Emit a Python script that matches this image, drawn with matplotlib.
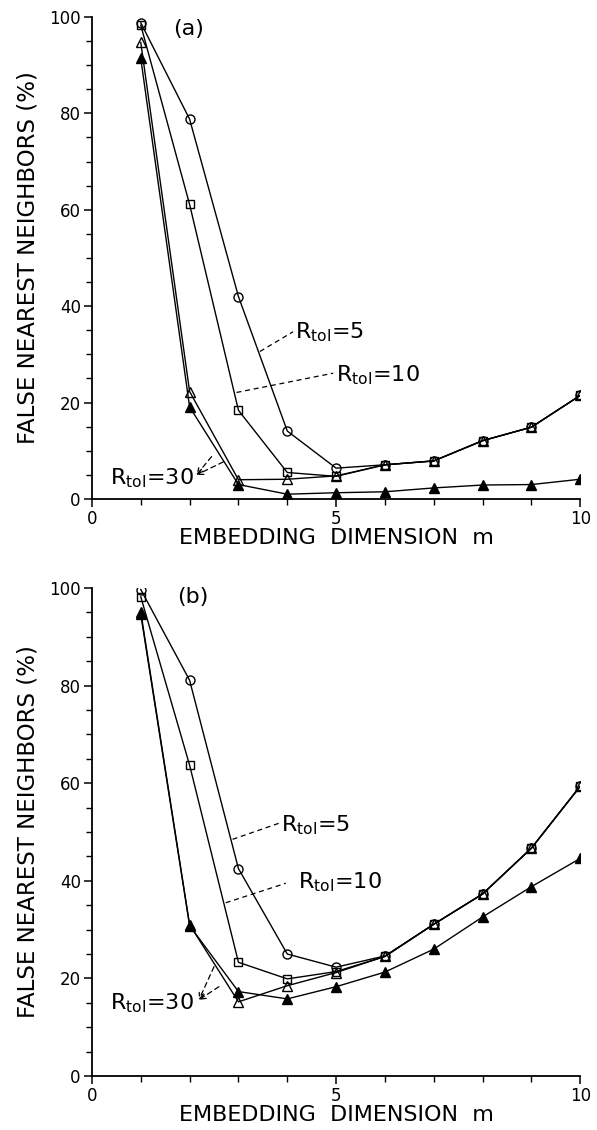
import matplotlib
matplotlib.use("Agg")
import matplotlib.pyplot as plt
from matplotlib.ticker import MultipleLocator

# embedding dimension
m = [1, 2, 3, 4, 5, 6, 7, 8, 9, 10]

# panel (a): false nearest neighbors in %
a_circle = [98.8, 78.8, 42.0, 14.1, 6.4, 7.1, 7.9, 12.1, 14.9, 21.5]
a_square = [98.3, 61.1, 18.4, 5.5, 4.7, 7.1, 7.9, 12.1, 14.9, 21.5]
a_tri_open = [94.7, 22.3, 4.0, 4.1, 4.8, 7.1, 7.9, 12.1, 14.9, 21.5]
a_tri_fill = [91.4, 19.1, 3.0, 1.0, 1.3, 1.5, 2.3, 2.9, 3.0, 4.1]

# panel (b)
b_circle = [99.7, 81.1, 42.5, 25.0, 22.3, 24.6, 31.1, 37.3, 46.7, 59.4]
b_square = [98.2, 63.7, 23.3, 19.9, 21.4, 24.5, 31.1, 37.3, 46.7, 59.4]
b_tri_open = [95.1, 31.0, 15.2, 18.5, 21.2, 24.5, 31.1, 37.3, 46.7, 59.4]
b_tri_fill = [94.6, 30.8, 17.3, 15.8, 18.3, 21.3, 26.0, 32.6, 38.8, 44.6]

labels = ['5', '10', '30']


def style_axes(ax):
    ax.set_xlim(0, 10)
    ax.set_ylim(0, 100)
    for s in ['top', 'right']:
        ax.spines[s].set_visible(False)
    for s in ['left', 'bottom']:
        ax.spines[s].set_linewidth(1.3)
    ax.xaxis.set_major_locator(MultipleLocator(5))
    ax.xaxis.set_minor_locator(MultipleLocator(1))
    ax.yaxis.set_major_locator(MultipleLocator(20))
    ax.yaxis.set_minor_locator(MultipleLocator(5))
    ax.tick_params(which='major', direction='out', length=6, width=1.1, labelsize=12, pad=2)
    ax.tick_params(which='minor', direction='out', length=4, width=1.0)
    ax.set_xlabel('EMBEDDING  DIMENSION  m', fontsize=16, labelpad=0)
    ax.set_ylabel('FALSE NEAREST NEIGHBORS (%)', fontsize=16.5, labelpad=7)


def draw_curves(ax, circ, sq, tri_o, tri_f):
    kw = dict(color='black', lw=1.0)
    ax.plot(m, circ, marker='o', ms=6.5, mfc='none', mec='black', **kw)
    ax.plot(m, sq, marker='s', ms=5.5, mfc='none', mec='black', **kw)
    ax.plot(m, tri_o, marker='^', ms=6.5, mfc='none', mec='black', **kw)
    ax.plot(m, tri_f, marker='^', ms=6.5, mfc='black', mec='black', **kw)


def rtol(ax, txt, x, y):
    ax.text(x, y, r'$\mathregular{R_{tol}}$=' + txt, fontsize=16,
            ha='left', va='center')


def dash(ax, x0, y0, x1, y1):
    ax.plot([x0, x1], [y0, y1], ls=(0, (4, 3)), color='black', lw=0.9)


def arrow30(ax, tip, ends):
    for e in ends:
        ax.annotate('', xy=tip, xytext=e,
                    arrowprops=dict(arrowstyle='->', ls=(0, (4, 3)), lw=0.9,
                                    color='black', shrinkA=0, shrinkB=0))


fig = plt.figure(figsize=(5.97, 11.3), dpi=100)

ax1 = fig.add_axes([0.154, 0.5584, 0.818, 0.4266])
draw_curves(ax1, a_circle, a_square, a_tri_open, a_tri_fill)
style_axes(ax1)
ax1.text(1.97, 97.5, '(a)', fontsize=16, ha='center', va='center')
dash(ax1, 3.44, 30.6, 4.12, 34.7)
rtol(ax1, labels[0], 4.15, 34.5)
dash(ax1, 2.96, 22.1, 4.94, 26.1)
rtol(ax1, labels[1], 5.0, 25.7)
rtol(ax1, labels[2], 0.37, 4.4)
arrow30(ax1, (2.14, 5.0), [(2.45, 8.8), (2.69, 7.7)])

ax2 = fig.add_axes([0.154, 0.0478, 0.818, 0.4318])
draw_curves(ax2, b_circle, b_square, b_tri_open, b_tri_fill)
style_axes(ax2)
ax2.text(2.06, 98.2, '(b)', fontsize=16, ha='center', va='center')
dash(ax2, 2.88, 48.5, 3.83, 51.8)
rtol(ax2, labels[0], 3.87, 51.4)
dash(ax2, 2.74, 35.5, 3.97, 39.5)
rtol(ax2, labels[1], 4.21, 39.8)
rtol(ax2, labels[2], 0.38, 15.0)
arrow30(ax2, (2.19, 15.6), [(2.5, 22.4), (2.6, 18.3)])

fig.savefig('out.png', dpi=100)
